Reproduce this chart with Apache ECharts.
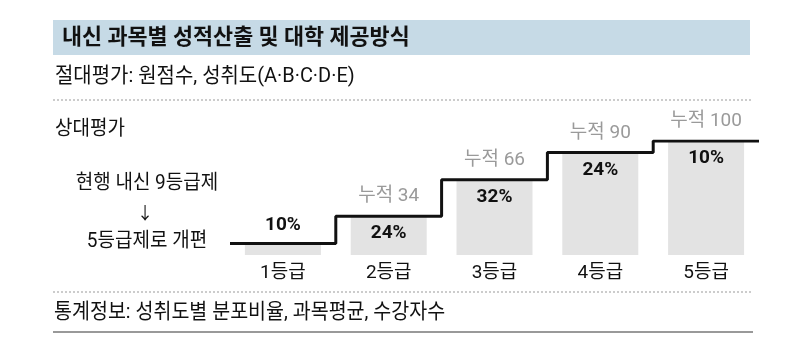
<!DOCTYPE html>
<html><head><meta charset="utf-8">
<script src="https://cdn.jsdelivr.net/npm/echarts@6/dist/echarts.min.js"></script>
<style>html,body{margin:0;padding:0;background:#fff}#c{width:806px;height:356px}</style>
</head><body><div id="c"></div>
<script>
const categories = ['1등급','2등급','3등급','4등급','5등급'];
const shares = [10, 24, 32, 24, 10];
const cumulative = [10, 34, 66, 90, 100];
const cumLabelPrefix = '누적';
const titleText = '내신 과목별 성적산출 및 대학 제공방식';
const absoluteText = '절대평가: 원점수, 성취도(A·B·C·D·E)';
const relativeText = '상대평가';
const noteLines = ['현행 내신 9등급제', '↓', '5등급제로 개편'];
const statsText = '통계정보: 성취도별 분포비율, 과목평균, 수강자수';

const FONT = 'Roboto, "Noto Sans CJK KR", sans-serif';
const chart = echarts.init(document.getElementById('c'), null, {renderer:'canvas'});

const stepData = cumulative.map((v,i)=>[i, v]).concat([[categories.length, cumulative[cumulative.length-1]]]);

function txt(text, x, y, font, sx, align){
  return {type:'text', x:x, y:y, scaleX:sx, originX:0, originY:0,
    style:{text:text, fill:'#111', font:font, textAlign:align||'left', textVerticalAlign:'middle'}};
}

chart.setOption({
  animation:false,
  backgroundColor:'#fff',
  grid:{left:230, right:47, top:141, bottom:101, containLabel:false},
  xAxis:[
    {type:'category', data:categories, axisLine:{show:false}, axisTick:{show:false},
     axisLabel:{color:'#111', fontSize:19, fontFamily:FONT, margin:9}},
    {type:'value', min:0, max:categories.length, show:false}
  ],
  yAxis:{type:'value', min:0, max:100, show:false, splitLine:{show:false}},
  series:[
    {type:'bar', xAxisIndex:0, data:cumulative.map((v,i)=>({value:v,
        label: i===0 ? {position:'top', distance:9} : {position:'insideTop', distance:8}})),
     barWidth:76, itemStyle:{color:'#e3e3e3'},
     label:{show:true, color:'#111', fontSize:19, fontWeight:'bold', fontFamily:FONT,
       formatter:p=>shares[p.dataIndex]+'%'}, z:1},
    {type:'bar', xAxisIndex:0, data:cumulative, barWidth:76, barGap:'-100%',
     itemStyle:{color:'rgba(0,0,0,0)'},
     label:{show:true, position:'top', distance:10, color:'#9a9a9a', fontSize:19, fontFamily:FONT,
       formatter:p=>p.dataIndex===0 ? '' : cumLabelPrefix+' '+cumulative[p.dataIndex]}, z:1},
    {type:'line', xAxisIndex:1, data:stepData, step:'end', symbol:'none',
     lineStyle:{color:'#111', width:3}, z:5}
  ],
  graphic:[
    {type:'rect', shape:{x:53, y:20, width:697, height:35}, style:{fill:'#c6dae6'}},
    txt(titleText, 62, 38, 'bold 22px '+FONT, 0.99),
    txt(absoluteText, 55, 77, '21px '+FONT, 0.95),
    {type:'line', shape:{x1:53, y1:100, x2:752, y2:100}, style:{stroke:'#9a9a9a', lineWidth:1, lineDash:[2,2]}},
    txt(relativeText, 55, 130, '20px '+FONT, 0.95),
    txt(noteLines[0], 147, 184, '20px '+FONT, 0.95, 'center'),
    txt(noteLines[1], 145, 215, '17px '+FONT, 0.95, 'center'),
    txt(noteLines[2], 147, 242, '20px '+FONT, 0.95, 'center'),
    {type:'line', shape:{x1:53, y1:292, x2:753, y2:292}, style:{stroke:'#9a9a9a', lineWidth:1, lineDash:[2,2]}},
    txt(statsText, 54, 313, '21px '+FONT, 0.93),
    {type:'line', shape:{x1:53, y1:332, x2:753, y2:332}, style:{stroke:'#999', lineWidth:2}}
  ]
});
</script></body></html>
